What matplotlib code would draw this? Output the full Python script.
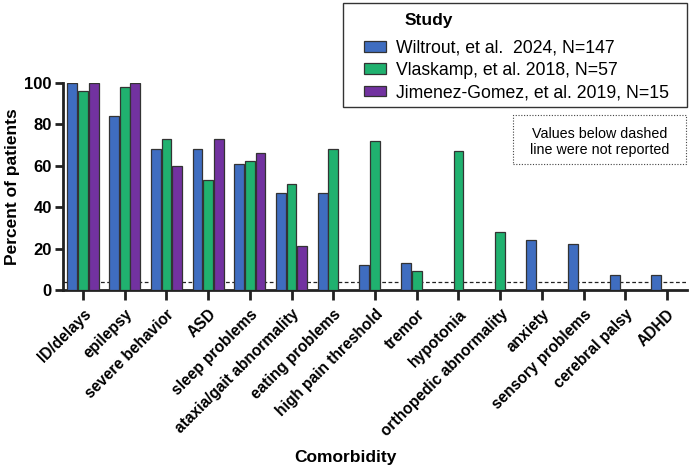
import matplotlib
matplotlib.use("Agg")
import matplotlib.pyplot as plt
import matplotlib.transforms as mtransforms
import numpy as np
from matplotlib.patches import Rectangle

plt.rcParams['font.family'] = ['Liberation Sans', 'DejaVu Sans']

categories = ["ID/delays", "epilepsy", "severe behavior", "ASD", "sleep problems",
              "ataxia/gait abnormality", "eating problems", "high pain threshold",
              "tremor", "hypotonia", "orthopedic abnormality", "anxiety",
              "sensory problems", "cerebral palsy", "ADHD"]
wiltrout = [100, 84, 68, 68, 61, 47, 47, 12, 13, np.nan, np.nan, 24, 22, 7, 7]
vlaskamp = [96, 98, 73, 53, 62, 51, 68, 72, 9, 67, 28, np.nan, np.nan, np.nan, np.nan]
jimenez = [100, 100, 60, 73, 66, 21, np.nan, np.nan, np.nan, np.nan, np.nan,
           np.nan, np.nan, np.nan, np.nan]
series_labels = ["Wiltrout, et al.  2024, N=147", "Vlaskamp, et al. 2018, N=57",
                 "Jimenez-Gomez, et al. 2019, N=15"]
colors = ["#3F6DC0", "#20B16F", "#7232A0"]
threshold = 4
yticks = [0, 20, 40, 60, 80, 100]

W, H = 691, 469
fig = plt.figure(figsize=(W / 100, H / 100), dpi=100)
ax = fig.add_axes([63 / W, 1 - 290 / H, (687 - 63) / W, (290 - 82.7) / H])

x = np.arange(len(categories))
w = 0.235
off = 0.255
handles = []
for i, (vals, lab, c) in enumerate(zip([wiltrout, vlaskamp, jimenez], series_labels, colors)):
    b = ax.bar(x + (i - 1) * off, vals, width=w, color=c, edgecolor="#333333",
               linewidth=0.9, label=lab, zorder=3)
    handles.append(b)

ax.axhline(threshold, color="#222222", linestyle=(0, (3, 2)), linewidth=0.9, zorder=2)

ax.set_xlim(-0.48, 14.48)
ax.set_ylim(0, 100)
ax.set_yticks(yticks)
ax.set_yticklabels([str(t) for t in yticks], fontsize=12, fontweight="bold")
ax.set_xticks(x)
ax.set_xticklabels(categories, rotation=45, ha="right", rotation_mode="anchor",
                   fontsize=11.2, fontweight="bold")
shift = mtransforms.ScaledTranslation(3 / 100, -4 / 100, fig.dpi_scale_trans)
for lbl in ax.get_xticklabels():
    lbl.set_transform(lbl.get_transform() + shift)
for s in ["top", "right"]:
    ax.spines[s].set_visible(False)
for s in ["left", "bottom"]:
    ax.spines[s].set_linewidth(2)
    ax.spines[s].set_color("#222222")
ax.tick_params(axis="both", width=2, length=6, color="#222222", pad=2)
ax.tick_params(axis="x", length=7, pad=5)
ax.set_ylabel("Percent of patients", fontsize=12.5, fontweight="bold", labelpad=3)
fig.text(0.5, 1 - 457 / H, "Comorbidity", ha="center", va="center", fontsize=12.5,
         fontweight="bold")

# legend box
fig.patches.append(Rectangle((343 / W, 1 - 107 / H), (687 - 343) / W, 104 / H,
                             transform=fig.transFigure, facecolor="white",
                             edgecolor="#333333", linewidth=1.0, zorder=5))
fig.text(405 / W, 1 - 20 / H, "Study", ha="left", va="center", fontsize=12.5,
         fontweight="bold", zorder=6)
leg = fig.legend(handles=handles, labels=series_labels,
                 loc="upper left", bbox_to_anchor=(363.5 / W, 1 - 39.5 / H),
                 fontsize=12.7, frameon=False, borderpad=0, borderaxespad=0,
                 handlelength=1.25, handleheight=0.55, labelspacing=0.3,
                 handletextpad=0.58)
leg.set_zorder(6)

# note box
fig.patches.append(Rectangle((513 / W, 1 - 164 / H), (686 - 513) / W, 49 / H,
                             transform=fig.transFigure, facecolor="white",
                             edgecolor="#444444", linewidth=0.8,
                             linestyle=(0, (1, 1.5)), zorder=5))
fig.text(599.5 / W, 1 - 142 / H, "Values below dashed\nline were not reported",
         ha="center", va="center", fontsize=10.3, linespacing=1.15, zorder=6)

fig.savefig("out.png", dpi=100)
